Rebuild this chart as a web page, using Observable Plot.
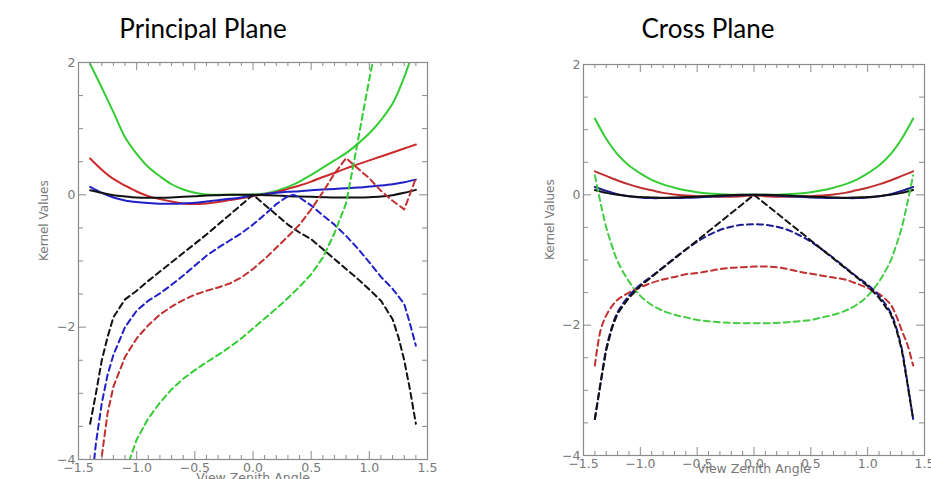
<!DOCTYPE html>
<html>
<head>
<meta charset="utf-8">
<script src="https://cdn.jsdelivr.net/npm/d3@7"></script>
<script src="https://cdn.jsdelivr.net/npm/@observablehq/plot@0.6"></script>
<style>
  body { margin: 0; background: #fff; }
  #wrap { position: relative; width: 931px; height: 479px; overflow: hidden; background: #fff; }
  .title { position: absolute; top: 15px; font-family: Lato, "Open Sans", sans-serif; font-size: 26px; line-height: 26px; color: #000; transform: translateX(-50%); white-space: nowrap; }
  .panel { position: absolute; top: 40px; }
</style>
</head>
<body>
<div id="wrap">
  <div class="title" style="left:203px">Principal Plane</div>
  <div class="title" style="left:708px">Cross Plane</div>
  <div class="panel" id="left" style="left:0px"></div>
  <div class="panel" id="right" style="left:470px"></div>
</div>
<script>
// ---------- axis ticks ----------
const xTickLabels = [-1.5, -1.0, -0.5, 0.0, 0.5, 1.0, 1.5];
const xMinorTicks = [-1.4,-1.3,-1.2,-1.1,-0.9,-0.8,-0.7,-0.6,-0.4,-0.3,-0.2,-0.1,0.1,0.2,0.3,0.4,0.6,0.7,0.8,0.9,1.1,1.2,1.3,1.4];
const yTickLabels = [-4, -2, 0, 2];
const yMinorTicks = [-3.5,-3,-2.5,-1.5,-1,-0.5,0.5,1,1.5];
const xLabel = "View Zenith Angle";
const yLabel = "Kernel Values";

// ---------- shared x grid ----------
const gridX = [-1.4,-1.3,-1.2,-1.1,-1.0,-0.9,-0.8,-0.7,-0.6,-0.5,-0.4,-0.3,-0.2,-0.1,0,0.1,0.2,0.3,0.4,0.5,0.6,0.7,0.8,0.9,1.0,1.1,1.2,1.3,1.4];

// ---------- Principal Plane ----------
const ppGreenSolid = [1.98,1.62,1.25,0.87,0.62,0.42,0.28,0.16,0.08,0.03,0.005,0,0,0,0.005,0.02,0.06,0.12,0.2,0.3,0.41,0.52,0.63,0.77,0.93,1.13,1.38,1.78,2.3];
const ppRedSolid   = [0.55,0.38,0.24,0.14,0.05,-0.02,-0.065,-0.10,-0.13,-0.14,-0.13,-0.11,-0.08,-0.05,-0.02,0.01,0.04,0.09,0.14,0.2,0.27,0.33,0.40,0.46,0.52,0.58,0.64,0.70,0.76];
const ppBlueSolid  = [0.12,0.03,-0.04,-0.085,-0.11,-0.125,-0.135,-0.135,-0.13,-0.12,-0.1,-0.08,-0.06,-0.04,-0.01,0.01,0.03,0.045,0.055,0.07,0.08,0.09,0.1,0.11,0.125,0.14,0.16,0.19,0.23];
const ppBlackSolid = [0.07,0.03,-0.005,-0.025,-0.04,-0.045,-0.045,-0.04,-0.03,-0.02,-0.01,-0.005,0,0,0,-0.005,-0.01,-0.02,-0.025,-0.03,-0.035,-0.04,-0.04,-0.04,-0.035,-0.025,-0.005,0.03,0.075];

const ppBlackDashX = [-1.4,-1.35,-1.3,-1.25,-1.2,-1.1,-1.0,-0.9,-0.8,-0.7,-0.6,-0.5,-0.4,-0.3,-0.2,-0.1,0,0.1,0.2,0.3,0.4,0.5,0.6,0.7,0.8,0.9,1.0,1.1,1.2,1.25,1.3,1.35,1.4];
const ppBlackDash  = [-3.46,-3.0,-2.5,-2.15,-1.85,-1.58,-1.45,-1.3,-1.16,-1.02,-0.88,-0.74,-0.6,-0.45,-0.3,-0.15,0,-0.15,-0.3,-0.45,-0.57,-0.67,-0.82,-0.97,-1.12,-1.27,-1.43,-1.6,-1.88,-2.15,-2.5,-2.95,-3.46];
const ppBlueDashX  = [-1.4,-1.35,-1.3,-1.25,-1.2,-1.1,-1.0,-0.9,-0.8,-0.7,-0.6,-0.5,-0.4,-0.3,-0.2,-0.1,0,0.1,0.2,0.3,0.35,0.4,0.5,0.6,0.7,0.8,0.9,1.0,1.1,1.2,1.3,1.35,1.4];
const ppBlueDash   = [-4.6,-3.75,-3.15,-2.72,-2.42,-2.0,-1.75,-1.6,-1.49,-1.36,-1.22,-1.07,-0.92,-0.8,-0.69,-0.58,-0.45,-0.3,-0.14,-0.02,0,-0.04,-0.16,-0.31,-0.45,-0.62,-0.81,-1.02,-1.24,-1.42,-1.65,-1.95,-2.28];
const ppRedDashX   = [-1.4,-1.35,-1.3,-1.25,-1.2,-1.1,-1.0,-0.9,-0.8,-0.7,-0.6,-0.5,-0.4,-0.3,-0.2,-0.1,0,0.1,0.2,0.3,0.4,0.5,0.6,0.7,0.8,0.9,1.0,1.1,1.2,1.3,1.4];
const ppRedDash    = [-5.6,-4.7,-3.95,-3.3,-2.9,-2.45,-2.17,-1.97,-1.81,-1.69,-1.59,-1.51,-1.45,-1.4,-1.34,-1.25,-1.12,-0.97,-0.8,-0.63,-0.45,-0.22,0.04,0.32,0.555,0.40,0.25,0.06,-0.09,-0.22,0.25];
const ppGreenDashX = [-1.2,-1.1,-1.0,-0.9,-0.8,-0.7,-0.6,-0.5,-0.4,-0.3,-0.2,-0.1,0,0.1,0.2,0.3,0.4,0.5,0.6,0.7,0.8,0.85,0.9,0.95,1.0,1.05,1.1];
const ppGreenDash  = [-4.9,-4.2,-3.7,-3.38,-3.14,-2.94,-2.78,-2.65,-2.53,-2.42,-2.3,-2.17,-2.02,-1.87,-1.72,-1.56,-1.39,-1.2,-0.95,-0.58,-0.13,0.33,0.8,1.28,1.75,2.2,2.7];

// ---------- Cross Plane ----------
const cpGreenSolid = [1.17,0.86,0.62,0.45,0.33,0.23,0.16,0.11,0.07,0.04,0.02,0.01,0.003,0,0,0,0.003,0.01,0.02,0.04,0.07,0.11,0.16,0.23,0.33,0.45,0.62,0.86,1.17];
const cpRedSolid   = [0.36,0.29,0.22,0.16,0.11,0.07,0.03,0.005,-0.01,-0.02,-0.025,-0.03,-0.03,-0.02,-0.01,-0.02,-0.03,-0.03,-0.025,-0.02,-0.01,0.005,0.03,0.07,0.11,0.16,0.22,0.29,0.36];
const cpBlueSolid  = [0.12,0.06,0.01,-0.02,-0.04,-0.05,-0.05,-0.05,-0.045,-0.04,-0.03,-0.02,-0.01,-0.005,0,-0.005,-0.01,-0.02,-0.03,-0.04,-0.045,-0.05,-0.05,-0.05,-0.04,-0.02,0.01,0.06,0.12];
const cpBlackSolid = [0.075,0.03,0,-0.02,-0.035,-0.04,-0.045,-0.04,-0.035,-0.03,-0.02,-0.01,-0.005,0,0,0,-0.005,-0.01,-0.02,-0.03,-0.035,-0.04,-0.045,-0.04,-0.035,-0.02,0,0.03,0.075];

const cpDashX      = [-1.4,-1.35,-1.3,-1.25,-1.2,-1.1,-1.0,-0.9,-0.8,-0.7,-0.6,-0.5,-0.4,-0.3,-0.2,-0.1,0,0.1,0.2,0.3,0.4,0.5,0.6,0.7,0.8,0.9,1.0,1.1,1.2,1.25,1.3,1.35,1.4];
const cpBlackDash  = [-3.44,-2.9,-2.38,-2.05,-1.82,-1.58,-1.4,-1.26,-1.12,-0.98,-0.84,-0.7,-0.56,-0.42,-0.28,-0.14,0,-0.14,-0.28,-0.42,-0.56,-0.7,-0.84,-0.98,-1.12,-1.26,-1.4,-1.58,-1.82,-2.05,-2.38,-2.9,-3.44];
const cpBlueDash   = [-3.44,-2.88,-2.36,-2.03,-1.8,-1.55,-1.38,-1.25,-1.11,-0.97,-0.84,-0.72,-0.62,-0.54,-0.49,-0.46,-0.45,-0.46,-0.49,-0.54,-0.62,-0.72,-0.84,-0.97,-1.11,-1.25,-1.38,-1.55,-1.8,-2.03,-2.36,-2.88,-3.44];
const cpRedDash    = [-2.62,-2.08,-1.85,-1.71,-1.61,-1.5,-1.42,-1.35,-1.30,-1.26,-1.22,-1.20,-1.17,-1.14,-1.12,-1.11,-1.10,-1.10,-1.11,-1.14,-1.18,-1.21,-1.24,-1.27,-1.30,-1.36,-1.43,-1.52,-1.68,-1.85,-2.08,-2.3,-2.62];
const cpGreenDash  = [0.3,-0.12,-0.5,-0.78,-1.02,-1.33,-1.55,-1.69,-1.78,-1.84,-1.88,-1.92,-1.94,-1.955,-1.965,-1.97,-1.97,-1.97,-1.965,-1.955,-1.94,-1.92,-1.88,-1.84,-1.78,-1.69,-1.55,-1.33,-1.02,-0.78,-0.5,-0.12,0.3];

// ---------- build ----------
function toRows(xs, ys) { return xs.map((x, i) => ({x, y: ys[i]})); }

function panel(opts) {
  const {width, height, marginLeft, marginRight, marginTop, marginBottom, lines, xLabelDy, yLabelDx} = opts;
  const frameH = height - marginTop - marginBottom;
  const frameW = width - marginLeft - marginRight;
  const gray = "#8a8a8a";
  const tickMarks = [
    Plot.ruleX(xTickLabels, {x: d => d, stroke: gray, insetTop: frameH - 8}),
    Plot.ruleX(xTickLabels, {x: d => d, stroke: gray, insetBottom: frameH - 8}),
    Plot.ruleX(xMinorTicks, {x: d => d, stroke: gray, insetTop: frameH - 4}),
    Plot.ruleX(xMinorTicks, {x: d => d, stroke: gray, insetBottom: frameH - 4}),
    Plot.ruleY(yTickLabels, {y: d => d, stroke: gray, insetRight: frameW - 8}),
    Plot.ruleY(yTickLabels, {y: d => d, stroke: gray, insetLeft: frameW - 8}),
    Plot.ruleY(yMinorTicks, {y: d => d, stroke: gray, insetRight: frameW - 5}),
    Plot.ruleY(yMinorTicks, {y: d => d, stroke: gray, insetLeft: frameW - 5})
  ];
  const lineMarks = lines.map(l => Plot.line(toRows(l.x, l.y), {
    x: "x", y: "y", stroke: l.color, strokeWidth: 2,
    strokeDasharray: l.dash ? "6,4" : null,
    curve: l.curve || "catmull-rom", clip: true
  }));
  return Plot.plot({
    width, height, marginLeft, marginRight, marginTop, marginBottom,
    style: {fontFamily: "'DejaVu Sans', sans-serif", background: "#fff", overflow: "visible"},
    x: {domain: [-1.5, 1.5]},
    y: {domain: [-4, 2]},
    marks: [
      ...lineMarks,
      Plot.frame({stroke: gray, strokeWidth: 1.2}),
      ...tickMarks,
      Plot.axisX(xTickLabels, {anchor: "bottom", tickSize: 0, tickPadding: 4, tickFormat: d3.format(".1f"),
        fill: "#777", fontSize: 12.5, label: null}),
      Plot.axisY(yTickLabels, {anchor: "left", tickSize: 0, tickPadding: 3, tickFormat: d3.format("d"),
        fill: "#777", fontSize: 12.5, label: null}),
      Plot.text([xLabel], {text: d => d, frameAnchor: "bottom", lineAnchor: "middle", dy: xLabelDy,
        fill: "#777", fontSize: 12.5}),
      Plot.text([yLabel], {text: d => d, frameAnchor: "left", lineAnchor: "middle", rotate: -90, dx: yLabelDx,
        fill: "#777", fontSize: 12})
    ]
  });
}

const green = "#33cc33", red = "#cc2a2a", blue = "#2020c8", black = "#111111";

const left = panel({
  width: 460, height: 439, marginLeft: 78, marginRight: 33, marginTop: 22, marginBottom: 20,
  xLabelDy: 18, yLabelDx: -34,
  lines: [
    {x: gridX, y: ppGreenSolid, color: green},
    {x: gridX, y: ppRedSolid, color: red},
    {x: gridX, y: ppBlueSolid, color: blue},
    {x: gridX, y: ppBlackSolid, color: black},
    {x: ppBlackDashX, y: ppBlackDash, color: black, dash: true, curve: "linear"},
    {x: ppBlueDashX, y: ppBlueDash, color: blue, dash: true, curve: "linear"},
    {x: ppRedDashX, y: ppRedDash, color: "#c03030", dash: true, curve: "linear"},
    {x: ppGreenDashX, y: ppGreenDash, color: green, dash: true, curve: "linear"}
  ]
});
document.getElementById("left").appendChild(left);

const right = panel({
  width: 461, height: 439, marginLeft: 113, marginRight: 7, marginTop: 24, marginBottom: 24,
  xLabelDy: 13, yLabelDx: -33,
  lines: [
    {x: gridX, y: cpGreenSolid, color: green},
    {x: gridX, y: cpRedSolid, color: "#c03030"},
    {x: gridX, y: cpBlueSolid, color: "#1c1c90"},
    {x: gridX, y: cpBlackSolid, color: black},
    {x: cpDashX, y: cpGreenDash, color: "#44cc44", dash: true},
    {x: cpDashX, y: cpRedDash, color: "#c03030", dash: true},
    {x: cpDashX, y: cpBlueDash, color: "#1c1c90", dash: true},
    {x: cpDashX, y: cpBlackDash, color: black, dash: true, curve: "linear"}
  ]
});
document.getElementById("right").appendChild(right);
</script>
</body>
</html>
